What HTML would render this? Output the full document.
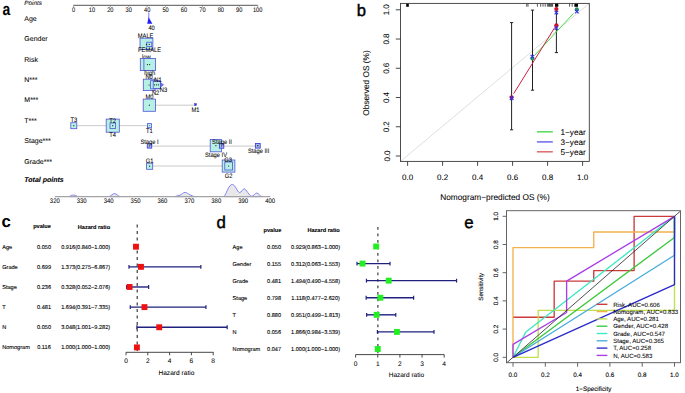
<!DOCTYPE html>
<html><head><meta charset="utf-8"><style>
html,body{margin:0;padding:0;background:#fff;}
body{width:685px;height:393px;overflow:hidden;}
svg{display:block;font-family:"Liberation Sans", sans-serif;text-rendering:geometricPrecision;}
text{stroke:#000;stroke-width:0.1px;}
text.big{stroke:none;}
text.bigr{stroke-width:0.45px;}
text.pb{stroke-width:0.06px;}
</style></head><body>
<svg width="685" height="393" viewBox="0 0 685 393">
<defs><clipPath id="eclip"><rect x="506.5" y="210.7" width="174" height="152"/></clipPath></defs>
<rect x="0" y="0" width="685" height="393" fill="#fff"/>
<text x="0" y="0" font-size="17" text-anchor="start" transform="translate(2.6 15.4) scale(0.82 1)" font-weight="bold" class="big">a</text>
<text x="356.7" y="16.4" font-size="16.6" text-anchor="start" class="bigr">b</text>
<text x="1.6" y="227.1" font-size="16.8" text-anchor="start" font-weight="bold" class="big">c</text>
<text x="216.4" y="228.1" font-size="16.8" text-anchor="start" class="bigr">d</text>
<text x="464.3" y="228.2" font-size="16.8" text-anchor="start" class="bigr">e</text>
<line x1="73.5" y1="5.4" x2="257.7" y2="5.4" stroke="#777" stroke-width="1.1"/>
<line x1="73.5" y1="5.5" x2="73.5" y2="6.8" stroke="#666" stroke-width="0.7"/>
<text x="0" y="0" font-size="6.6" text-anchor="middle" transform="translate(73.5 11.9) scale(0.86 1)" class="pb">0</text>
<line x1="91.92" y1="5.5" x2="91.92" y2="6.8" stroke="#666" stroke-width="0.7"/>
<text x="0" y="0" font-size="6.6" text-anchor="middle" transform="translate(91.92 11.9) scale(0.86 1)" class="pb">10</text>
<line x1="110.34" y1="5.5" x2="110.34" y2="6.8" stroke="#666" stroke-width="0.7"/>
<text x="0" y="0" font-size="6.6" text-anchor="middle" transform="translate(110.34 11.9) scale(0.86 1)" class="pb">20</text>
<line x1="128.76" y1="5.5" x2="128.76" y2="6.8" stroke="#666" stroke-width="0.7"/>
<text x="0" y="0" font-size="6.6" text-anchor="middle" transform="translate(128.76 11.9) scale(0.86 1)" class="pb">30</text>
<line x1="147.18" y1="5.5" x2="147.18" y2="6.8" stroke="#666" stroke-width="0.7"/>
<text x="0" y="0" font-size="6.6" text-anchor="middle" transform="translate(147.18 11.9) scale(0.86 1)" class="pb">40</text>
<line x1="165.6" y1="5.5" x2="165.6" y2="6.8" stroke="#666" stroke-width="0.7"/>
<text x="0" y="0" font-size="6.6" text-anchor="middle" transform="translate(165.6 11.9) scale(0.86 1)" class="pb">50</text>
<line x1="184.02" y1="5.5" x2="184.02" y2="6.8" stroke="#666" stroke-width="0.7"/>
<text x="0" y="0" font-size="6.6" text-anchor="middle" transform="translate(184.02 11.9) scale(0.86 1)" class="pb">60</text>
<line x1="202.44" y1="5.5" x2="202.44" y2="6.8" stroke="#666" stroke-width="0.7"/>
<text x="0" y="0" font-size="6.6" text-anchor="middle" transform="translate(202.44 11.9) scale(0.86 1)" class="pb">70</text>
<line x1="220.86" y1="5.5" x2="220.86" y2="6.8" stroke="#666" stroke-width="0.7"/>
<text x="0" y="0" font-size="6.6" text-anchor="middle" transform="translate(220.86 11.9) scale(0.86 1)" class="pb">80</text>
<line x1="239.28" y1="5.5" x2="239.28" y2="6.8" stroke="#666" stroke-width="0.7"/>
<text x="0" y="0" font-size="6.6" text-anchor="middle" transform="translate(239.28 11.9) scale(0.86 1)" class="pb">90</text>
<line x1="257.7" y1="5.5" x2="257.7" y2="6.8" stroke="#666" stroke-width="0.7"/>
<text x="0" y="0" font-size="6.6" text-anchor="middle" transform="translate(257.7 11.9) scale(0.86 1)" class="pb">100</text>
<text x="24.3" y="5" font-size="6.3" text-anchor="start" font-style="italic" class="pb">Points</text>
<text x="24.3" y="21.1" font-size="7" text-anchor="start" class="pb">Age</text>
<text x="24.3" y="41.3" font-size="7" text-anchor="start" class="pb">Gender</text>
<text x="24.3" y="61.5" font-size="7" text-anchor="start" class="pb">Risk</text>
<text x="24.3" y="81.9" font-size="7" text-anchor="start" class="pb">N***</text>
<text x="24.3" y="102.1" font-size="7" text-anchor="start" class="pb">M***</text>
<text x="24.3" y="122.5" font-size="7" text-anchor="start" class="pb">T***</text>
<text x="24.3" y="143.4" font-size="7" text-anchor="start" class="pb">Stage***</text>
<text x="24.3" y="163.5" font-size="7" text-anchor="start" class="pb">Grade***</text>
<text x="24.3" y="181.8" font-size="7" text-anchor="start" font-weight="bold" font-style="italic">Total points</text>
<line x1="148.8" y1="12.3" x2="148.8" y2="19" stroke="#2020ff" stroke-width="0.6"/>
<polygon points="148.6,17.2 147.2,23.8 152.4,23.8" fill="#1f1fff"/>
<text x="0" y="0" font-size="6.4" text-anchor="middle" transform="translate(151.6 29.9) scale(0.9 1)" class="pb">40</text>
<text x="0" y="0" font-size="6.4" text-anchor="middle" transform="translate(145.6 37.5) scale(0.9 1)" class="pb">MALE</text>
<rect x="140" y="38.2" width="12.9" height="11.2" fill="#b6efe4" stroke="#5252d6" stroke-width="0.8"/>
<rect x="146.8" y="42.2" width="5" height="4.4" fill="#b6efe4" stroke="#5252d6" stroke-width="0.8"/>
<circle cx="146.5" cy="44.4" r="0.6" fill="#0a2a1a" stroke="none" stroke-width="1"/>
<circle cx="149.3" cy="44.4" r="0.6" fill="#0a2a1a" stroke="none" stroke-width="1"/>
<text x="0" y="0" font-size="6.4" text-anchor="middle" transform="translate(149.6 52.3) scale(0.9 1)" class="pb">FEMALE</text>
<text x="0" y="0" font-size="6.4" text-anchor="middle" transform="translate(146.4 58.7) scale(0.9 1)" class="pb">low</text>
<rect x="140.3" y="58.4" width="12" height="12.2" fill="#b6efe4" stroke="#5252d6" stroke-width="0.8"/>
<rect x="143.9" y="58.4" width="11.7" height="12.2" fill="#b6efe4" stroke="#5252d6" stroke-width="0.8"/>
<circle cx="147.4" cy="64.6" r="0.6" fill="#0a2a1a" stroke="none" stroke-width="1"/>
<circle cx="149.6" cy="64.6" r="0.6" fill="#0a2a1a" stroke="none" stroke-width="1"/>
<text x="0" y="0" font-size="6.4" text-anchor="middle" transform="translate(149.7 75.4) scale(0.9 1)" class="pb">high</text>
<text x="0" y="0" font-size="6.4" text-anchor="middle" transform="translate(149.1 78.5) scale(0.9 1)" class="pb">N0</text>
<rect x="143.3" y="79.2" width="11.7" height="11.4" fill="#b6efe4" stroke="#5252d6" stroke-width="0.8"/>
<rect x="150.6" y="80.7" width="9.6" height="8.2" fill="#b6efe4" stroke="#5252d6" stroke-width="0.8"/>
<rect x="153.2" y="81.4" width="7.4" height="7" fill="#b6efe4" stroke="#5252d6" stroke-width="0.8"/>
<polygon points="160.4,82.4 163.6,84.8 160.4,87.2" fill="#6a6ae6" stroke="#5252d6" stroke-width="0.6"/>
<circle cx="149.1" cy="85" r="0.6" fill="#0a2a1a" stroke="none" stroke-width="1"/>
<circle cx="154.6" cy="84.8" r="0.6" fill="#0a2a1a" stroke="none" stroke-width="1"/>
<circle cx="156.6" cy="84.8" r="0.6" fill="#0a2a1a" stroke="none" stroke-width="1"/>
<circle cx="158.4" cy="84.8" r="0.6" fill="#0a2a1a" stroke="none" stroke-width="1"/>
<text x="0" y="0" font-size="6.4" text-anchor="middle" transform="translate(157.9 81.5) scale(0.9 1)" class="pb">N1</text>
<text x="0" y="0" font-size="6.4" text-anchor="middle" transform="translate(155.6 94.7) scale(0.9 1)" class="pb">N2</text>
<text x="0" y="0" font-size="6.4" text-anchor="middle" transform="translate(163.4 91.9) scale(0.9 1)" class="pb">N3</text>
<text x="0" y="0" font-size="6.4" text-anchor="middle" transform="translate(149.4 98.5) scale(0.9 1)" class="pb">M0</text>
<line x1="155.6" y1="105.2" x2="195.5" y2="105.2" stroke="#bdbdbd" stroke-width="0.8"/>
<rect x="143.2" y="99.1" width="12.4" height="12.2" fill="#b6efe4" stroke="#5252d6" stroke-width="0.8"/>
<circle cx="149.4" cy="105.2" r="0.6" fill="#0a2a1a" stroke="none" stroke-width="1"/>
<rect x="194.6" y="103.7" width="1.8" height="1.8" fill="#3333dd" stroke="#3333dd" stroke-width="0.5"/>
<text x="0" y="0" font-size="6.4" text-anchor="middle" transform="translate(195.4 111.7) scale(0.9 1)" class="pb">M1</text>
<line x1="73.8" y1="125.7" x2="149.4" y2="125.7" stroke="#bdbdbd" stroke-width="0.8"/>
<rect x="70.8" y="122.7" width="6" height="6" fill="#b6efe4" stroke="#5252d6" stroke-width="0.8"/>
<circle cx="73.8" cy="125.7" r="0.6" fill="#0a2a1a" stroke="none" stroke-width="1"/>
<text x="0" y="0" font-size="6.4" text-anchor="middle" transform="translate(73.8 122.3) scale(0.9 1)" class="pb">T3</text>
<rect x="106.2" y="119.1" width="13.1" height="13.1" fill="#b6efe4" stroke="#5252d6" stroke-width="0.8"/>
<rect x="110" y="123" width="5.6" height="5.5" fill="#b6efe4" stroke="#5252d6" stroke-width="0.8"/>
<circle cx="112.7" cy="125.7" r="0.6" fill="#0a2a1a" stroke="none" stroke-width="1"/>
<text x="0" y="0" font-size="6.4" text-anchor="middle" transform="translate(112.7 122.8) scale(0.9 1)" class="pb">T2</text>
<text x="0" y="0" font-size="6.4" text-anchor="middle" transform="translate(112.6 137.2) scale(0.9 1)" class="pb">T4</text>
<rect x="147.5" y="123.6" width="3.9" height="4.1" fill="#b6efe4" stroke="#5252d6" stroke-width="0.8"/>
<circle cx="149.4" cy="125.7" r="0.4" fill="#0a2a1a" stroke="none" stroke-width="1"/>
<text x="0" y="0" font-size="6.4" text-anchor="middle" transform="translate(149.4 133.1) scale(0.9 1)" class="pb">T1</text>
<line x1="149.5" y1="146.1" x2="258" y2="146.1" stroke="#bdbdbd" stroke-width="0.8"/>
<rect x="147.3" y="143.9" width="4.4" height="4.2" fill="#a8b8f0" stroke="#4040d8" stroke-width="0.9"/>
<circle cx="149.5" cy="146" r="0.6" fill="#0a2a1a" stroke="none" stroke-width="1"/>
<rect x="210.2" y="139.5" width="11.4" height="12.3" fill="#b6efe4" stroke="#5252d6" stroke-width="0.8"/>
<circle cx="215.9" cy="145.7" r="0.6" fill="#0a2a1a" stroke="none" stroke-width="1"/>
<rect x="219.4" y="143.8" width="4.4" height="4.4" fill="#a8b8f0" stroke="#4040d8" stroke-width="0.9"/>
<circle cx="221.6" cy="146" r="0.6" fill="#0a2a1a" stroke="none" stroke-width="1"/>
<rect x="255.4" y="143.5" width="4.8" height="4.6" fill="#a8b8f0" stroke="#4040d8" stroke-width="0.9"/>
<circle cx="257.8" cy="145.8" r="0.7" fill="#0a2a1a" stroke="none" stroke-width="1"/>
<text x="0" y="0" font-size="6.4" text-anchor="middle" transform="translate(149.5 143.7) scale(0.9 1)" class="pb">Stage I</text>
<text x="0" y="0" font-size="6.4" text-anchor="middle" transform="translate(222 143.7) scale(0.9 1)" class="pb">Stage II</text>
<text x="0" y="0" font-size="6.4" text-anchor="middle" transform="translate(216 157) scale(0.9 1)" class="pb">Stage IV</text>
<text x="0" y="0" font-size="6.4" text-anchor="middle" transform="translate(258.6 152.8) scale(0.9 1)" class="pb">Stage III</text>
<line x1="149.6" y1="166" x2="228.5" y2="166" stroke="#bdbdbd" stroke-width="0.8"/>
<rect x="146.6" y="163.2" width="6.1" height="6.1" fill="#b6efe4" stroke="#5252d6" stroke-width="0.8"/>
<circle cx="149.6" cy="166.2" r="0.6" fill="#0a2a1a" stroke="none" stroke-width="1"/>
<rect x="222.2" y="160" width="12.7" height="12.1" fill="#b6efe4" stroke="#5252d6" stroke-width="0.8"/>
<rect x="224.8" y="162" width="7.8" height="8" fill="#b6efe4" stroke="#5252d6" stroke-width="0.8"/>
<circle cx="228.6" cy="166" r="0.6" fill="#0a2a1a" stroke="none" stroke-width="1"/>
<text x="0" y="0" font-size="6.4" text-anchor="middle" transform="translate(149.5 162.7) scale(0.9 1)" class="pb">G1</text>
<text x="0" y="0" font-size="6.4" text-anchor="middle" transform="translate(228.2 161.7) scale(0.9 1)" class="pb">G3</text>
<text x="0" y="0" font-size="6.4" text-anchor="middle" transform="translate(228.5 177.8) scale(0.9 1)" class="pb">G2</text>
<path d="M69.3,196.6 C71.5,194.6 75.5,194.6 77.7,196.6 Z M109,196.6 C111.5,195.8 112.5,193.6 114.5,193.6 C116.5,193.6 117.5,195.8 120,196.6 Z M174.8,196.6 C177,195.8 178.5,195.6 180,195.2 C182,194.5 183,192.4 185,192.4 C187,192.4 189,195.0 194.5,196.6 Z M224.2,196.6 C227,192 229,184.5 232.3,184.5 C235.5,184.5 237.5,192.6 239.6,192.6 C241.5,192.6 242.5,188.8 244.2,188.8 C246,188.8 249.5,196.3 251.7,196.3 C253.5,196.3 255,193 256.7,193 C258.5,193 260,196 261.7,196.6 Z" fill="#e8e8e8" stroke="#6a6af0" stroke-width="0.8"/>
<line x1="54.8" y1="196.6" x2="270.3" y2="196.6" stroke="#a4a4a8" stroke-width="1.4"/>
<text x="0" y="0" font-size="6.6" text-anchor="middle" transform="translate(54.8 203) scale(0.9 1)" class="pb">320</text>
<text x="0" y="0" font-size="6.6" text-anchor="middle" transform="translate(81.71 203) scale(0.9 1)" class="pb">330</text>
<text x="0" y="0" font-size="6.6" text-anchor="middle" transform="translate(108.62 203) scale(0.9 1)" class="pb">340</text>
<text x="0" y="0" font-size="6.6" text-anchor="middle" transform="translate(135.53 203) scale(0.9 1)" class="pb">350</text>
<text x="0" y="0" font-size="6.6" text-anchor="middle" transform="translate(162.44 203) scale(0.9 1)" class="pb">360</text>
<text x="0" y="0" font-size="6.6" text-anchor="middle" transform="translate(189.35 203) scale(0.9 1)" class="pb">370</text>
<text x="0" y="0" font-size="6.6" text-anchor="middle" transform="translate(216.26 203) scale(0.9 1)" class="pb">380</text>
<text x="0" y="0" font-size="6.6" text-anchor="middle" transform="translate(243.17 203) scale(0.9 1)" class="pb">390</text>
<text x="0" y="0" font-size="6.6" text-anchor="middle" transform="translate(270.08 203) scale(0.9 1)" class="pb">400</text>
<line x1="400.5" y1="161.4" x2="589.3" y2="3.4" stroke="#d0d0d0" stroke-width="0.7"/>
<line x1="511.6" y1="22.6" x2="511.6" y2="129.8" stroke="#222" stroke-width="1"/>
<line x1="510" y1="22.6" x2="513.2" y2="22.6" stroke="#222" stroke-width="1"/>
<line x1="510" y1="129.8" x2="513.2" y2="129.8" stroke="#222" stroke-width="1"/>
<line x1="532.5" y1="10.1" x2="532.5" y2="90.2" stroke="#222" stroke-width="1"/>
<line x1="530.9" y1="10.1" x2="534.1" y2="10.1" stroke="#222" stroke-width="1"/>
<line x1="530.9" y1="90.2" x2="534.1" y2="90.2" stroke="#222" stroke-width="1"/>
<line x1="556.4" y1="9" x2="556.4" y2="52.6" stroke="#222" stroke-width="1"/>
<line x1="554.8" y1="9" x2="558" y2="9" stroke="#222" stroke-width="1"/>
<line x1="554.8" y1="52.6" x2="558" y2="52.6" stroke="#222" stroke-width="1"/>
<line x1="534.8" y1="55.2" x2="573.6" y2="13.3" stroke="#44dd44" stroke-width="1"/>
<line x1="513.7" y1="93.6" x2="554.8" y2="27.4" stroke="#cc2040" stroke-width="1"/>
<circle cx="511.6" cy="97.2" r="2" fill="#c81030" stroke="none" stroke-width="1"/>
<line x1="509.8" y1="96.4" x2="513.4" y2="100" stroke="#3030e8" stroke-width="1.1"/>
<line x1="509.8" y1="100" x2="513.4" y2="96.4" stroke="#3030e8" stroke-width="1.1"/>
<circle cx="532.4" cy="58.4" r="2" fill="#1f9a5a" stroke="none" stroke-width="1"/>
<line x1="530.6" y1="54.8" x2="534.2" y2="58.4" stroke="#3030e8" stroke-width="1.1"/>
<line x1="530.6" y1="58.4" x2="534.2" y2="54.8" stroke="#3030e8" stroke-width="1.1"/>
<circle cx="556.4" cy="9" r="2.1" fill="#d01028" stroke="none" stroke-width="1"/>
<line x1="554.6" y1="10.8" x2="558.2" y2="14.4" stroke="#3030e8" stroke-width="1.1"/>
<line x1="554.6" y1="14.4" x2="558.2" y2="10.8" stroke="#3030e8" stroke-width="1.1"/>
<circle cx="556.4" cy="25.3" r="2.1" fill="#d01028" stroke="none" stroke-width="1"/>
<line x1="554.6" y1="26.3" x2="558.2" y2="29.9" stroke="#3030e8" stroke-width="1.1"/>
<line x1="554.6" y1="29.9" x2="558.2" y2="26.3" stroke="#3030e8" stroke-width="1.1"/>
<circle cx="576.8" cy="9.2" r="2" fill="#1f8a5a" stroke="none" stroke-width="1"/>
<line x1="575" y1="9.8" x2="578.6" y2="13.4" stroke="#3030e8" stroke-width="1.1"/>
<line x1="575" y1="13.4" x2="578.6" y2="9.8" stroke="#3030e8" stroke-width="1.1"/>
<line x1="526.7" y1="3.4" x2="526.7" y2="6.7" stroke="#111" stroke-width="0.7"/>
<line x1="528" y1="3.4" x2="528" y2="6.7" stroke="#111" stroke-width="0.7"/>
<line x1="537.4" y1="3.4" x2="537.4" y2="6.7" stroke="#111" stroke-width="0.7"/>
<line x1="540.7" y1="3.4" x2="540.7" y2="6.7" stroke="#111" stroke-width="0.7"/>
<line x1="543" y1="3.4" x2="543" y2="6.7" stroke="#111" stroke-width="0.7"/>
<line x1="545.2" y1="3.4" x2="545.2" y2="6.7" stroke="#111" stroke-width="0.7"/>
<line x1="547.4" y1="3.4" x2="547.4" y2="6.7" stroke="#111" stroke-width="0.7"/>
<line x1="548.6" y1="3.4" x2="548.6" y2="6.7" stroke="#111" stroke-width="0.7"/>
<line x1="549.4" y1="3.4" x2="549.4" y2="6.7" stroke="#111" stroke-width="0.7"/>
<line x1="550.2" y1="3.4" x2="550.2" y2="6.7" stroke="#111" stroke-width="0.7"/>
<line x1="551" y1="3.4" x2="551" y2="6.7" stroke="#111" stroke-width="0.7"/>
<line x1="551.8" y1="3.4" x2="551.8" y2="6.7" stroke="#111" stroke-width="0.7"/>
<line x1="552.6" y1="3.4" x2="552.6" y2="6.7" stroke="#111" stroke-width="0.7"/>
<line x1="569.6" y1="3.4" x2="569.6" y2="6.7" stroke="#111" stroke-width="0.7"/>
<line x1="572.2" y1="3.4" x2="572.2" y2="6.7" stroke="#111" stroke-width="0.7"/>
<rect x="406.2" y="3.4" width="2.6" height="3.4" fill="#000" stroke="none" stroke-width="1"/>
<rect x="555" y="3.4" width="3.3" height="3.4" fill="#000" stroke="none" stroke-width="1"/>
<rect x="574.4" y="3.4" width="3.6" height="3.4" fill="#000" stroke="none" stroke-width="1"/>
<rect x="400.5" y="3.4" width="188.8" height="158" fill="none" stroke="#3a3a3a" stroke-width="0.9"/>
<line x1="395.8" y1="156" x2="400.5" y2="156" stroke="#333" stroke-width="0.9"/>
<text x="389.5" y="156" font-size="8" text-anchor="middle" transform="rotate(-90 389.5 156)" class="pb">0.0</text>
<line x1="407.6" y1="161.4" x2="407.6" y2="165.8" stroke="#333" stroke-width="0.9"/>
<text x="407.6" y="180.1" font-size="8" text-anchor="middle" class="pb">0.0</text>
<line x1="395.8" y1="126.76" x2="400.5" y2="126.76" stroke="#333" stroke-width="0.9"/>
<text x="389.5" y="126.76" font-size="8" text-anchor="middle" transform="rotate(-90 389.5 126.76)" class="pb">0.2</text>
<line x1="442.6" y1="161.4" x2="442.6" y2="165.8" stroke="#333" stroke-width="0.9"/>
<text x="442.6" y="180.1" font-size="8" text-anchor="middle" class="pb">0.2</text>
<line x1="395.8" y1="97.52" x2="400.5" y2="97.52" stroke="#333" stroke-width="0.9"/>
<text x="389.5" y="97.52" font-size="8" text-anchor="middle" transform="rotate(-90 389.5 97.52)" class="pb">0.4</text>
<line x1="477.6" y1="161.4" x2="477.6" y2="165.8" stroke="#333" stroke-width="0.9"/>
<text x="477.6" y="180.1" font-size="8" text-anchor="middle" class="pb">0.4</text>
<line x1="395.8" y1="68.28" x2="400.5" y2="68.28" stroke="#333" stroke-width="0.9"/>
<text x="389.5" y="68.28" font-size="8" text-anchor="middle" transform="rotate(-90 389.5 68.28)" class="pb">0.6</text>
<line x1="512.6" y1="161.4" x2="512.6" y2="165.8" stroke="#333" stroke-width="0.9"/>
<text x="512.6" y="180.1" font-size="8" text-anchor="middle" class="pb">0.6</text>
<line x1="395.8" y1="39.04" x2="400.5" y2="39.04" stroke="#333" stroke-width="0.9"/>
<text x="389.5" y="39.04" font-size="8" text-anchor="middle" transform="rotate(-90 389.5 39.04)" class="pb">0.8</text>
<line x1="547.6" y1="161.4" x2="547.6" y2="165.8" stroke="#333" stroke-width="0.9"/>
<text x="547.6" y="180.1" font-size="8" text-anchor="middle" class="pb">0.8</text>
<line x1="395.8" y1="9.8" x2="400.5" y2="9.8" stroke="#333" stroke-width="0.9"/>
<text x="389.5" y="9.8" font-size="8" text-anchor="middle" transform="rotate(-90 389.5 9.8)" class="pb">1.0</text>
<line x1="582.6" y1="161.4" x2="582.6" y2="165.8" stroke="#333" stroke-width="0.9"/>
<text x="582.6" y="180.1" font-size="8" text-anchor="middle" class="pb">1.0</text>
<text x="369" y="83" font-size="8.3" text-anchor="middle" transform="rotate(-90 369 83)" class="pb">Observed OS (%)</text>
<text x="494.9" y="199.5" font-size="8.3" text-anchor="middle" class="pb">Nomogram−predicted OS (%)</text>
<line x1="536.9" y1="131.8" x2="552.8" y2="131.8" stroke="#55dd55" stroke-width="1.5"/>
<text x="560.5" y="134.7" font-size="8.2" text-anchor="start" class="pb">1−year</text>
<line x1="536.9" y1="141.9" x2="552.8" y2="141.9" stroke="#6a6aee" stroke-width="1.5"/>
<text x="560.5" y="144.8" font-size="8.2" text-anchor="start" class="pb">3−year</text>
<line x1="536.9" y1="151.8" x2="552.8" y2="151.8" stroke="#dd6a6a" stroke-width="1.5"/>
<text x="560.5" y="154.7" font-size="8.2" text-anchor="start" class="pb">5−year</text>
<text x="42" y="228.32" font-size="5.6" text-anchor="middle" font-weight="bold">pvalue</text>
<text x="93.9" y="228.52" font-size="5.6" text-anchor="middle" font-weight="bold">Hazard ratio</text>
<line x1="137.2" y1="224.6" x2="137.2" y2="352.3" stroke="#2a2a2a" stroke-width="1.1" stroke-dasharray="3,3.5"/>
<text x="2.2" y="248.72" font-size="5.6" text-anchor="start">Age</text>
<text x="44" y="248.72" font-size="5.6" text-anchor="middle">0.050</text>
<text x="85.7" y="248.72" font-size="5.6" text-anchor="middle">0.916(0.840−1.000)</text>
<line x1="135.16" y1="246.7" x2="136.9" y2="246.7" stroke="#20207e" stroke-width="1.4"/>
<line x1="135.16" y1="244.8" x2="135.16" y2="248.6" stroke="#20207e" stroke-width="1.2"/>
<line x1="136.9" y1="244.8" x2="136.9" y2="248.6" stroke="#20207e" stroke-width="1.2"/>
<rect x="133.03" y="243.75" width="5.9" height="5.9" fill="#ee1111" stroke="none" stroke-width="1"/>
<text x="2.2" y="268.86" font-size="5.6" text-anchor="start">Grade</text>
<text x="44" y="268.86" font-size="5.6" text-anchor="middle">0.699</text>
<text x="85.7" y="268.86" font-size="5.6" text-anchor="middle">1.373(0.275−6.867)</text>
<line x1="129" y1="266.84" x2="200.85" y2="266.84" stroke="#20207e" stroke-width="1.4"/>
<line x1="129" y1="264.94" x2="129" y2="268.74" stroke="#20207e" stroke-width="1.2"/>
<line x1="200.85" y1="264.94" x2="200.85" y2="268.74" stroke="#20207e" stroke-width="1.2"/>
<rect x="138.02" y="263.89" width="5.9" height="5.9" fill="#ee1111" stroke="none" stroke-width="1"/>
<text x="2.2" y="289" font-size="5.6" text-anchor="start">Stage</text>
<text x="44" y="289" font-size="5.6" text-anchor="middle">0.236</text>
<text x="85.7" y="289" font-size="5.6" text-anchor="middle">0.328(0.052−2.076)</text>
<line x1="126.57" y1="286.98" x2="148.63" y2="286.98" stroke="#20207e" stroke-width="1.4"/>
<line x1="126.57" y1="285.08" x2="126.57" y2="288.88" stroke="#20207e" stroke-width="1.2"/>
<line x1="148.63" y1="285.08" x2="148.63" y2="288.88" stroke="#20207e" stroke-width="1.2"/>
<rect x="126.63" y="284.03" width="5.9" height="5.9" fill="#ee1111" stroke="none" stroke-width="1"/>
<text x="2.2" y="309.14" font-size="5.6" text-anchor="start">T</text>
<text x="44" y="309.14" font-size="5.6" text-anchor="middle">0.481</text>
<text x="85.7" y="309.14" font-size="5.6" text-anchor="middle">1.694(0.391−7.335)</text>
<line x1="130.26" y1="307.12" x2="205.95" y2="307.12" stroke="#20207e" stroke-width="1.4"/>
<line x1="130.26" y1="305.22" x2="130.26" y2="309.02" stroke="#20207e" stroke-width="1.2"/>
<line x1="205.95" y1="305.22" x2="205.95" y2="309.02" stroke="#20207e" stroke-width="1.2"/>
<rect x="141.51" y="304.17" width="5.9" height="5.9" fill="#ee1111" stroke="none" stroke-width="1"/>
<text x="2.2" y="329.28" font-size="5.6" text-anchor="start">N</text>
<text x="44" y="329.28" font-size="5.6" text-anchor="middle">0.050</text>
<text x="85.7" y="329.28" font-size="5.6" text-anchor="middle">3.048(1.001−9.282)</text>
<line x1="136.91" y1="327.26" x2="227.15" y2="327.26" stroke="#20207e" stroke-width="1.4"/>
<line x1="136.91" y1="325.36" x2="136.91" y2="329.16" stroke="#20207e" stroke-width="1.2"/>
<line x1="227.17" y1="325.36" x2="227.17" y2="329.16" stroke="#20207e" stroke-width="1.2"/>
<rect x="156.27" y="324.31" width="5.9" height="5.9" fill="#ee1111" stroke="none" stroke-width="1"/>
<text x="2.2" y="349.42" font-size="5.6" text-anchor="start">Nomogram</text>
<text x="44" y="349.42" font-size="5.6" text-anchor="middle">0.116</text>
<text x="85.7" y="349.42" font-size="5.6" text-anchor="middle">1.000(1.000−1.000)</text>
<rect x="133.95" y="344.45" width="5.9" height="5.9" fill="#ee1111" stroke="none" stroke-width="1"/>
<line x1="126" y1="352.3" x2="213.5" y2="352.3" stroke="#333" stroke-width="0.9"/>
<line x1="126" y1="352.3" x2="126" y2="355.3" stroke="#333" stroke-width="0.9"/>
<text x="126" y="362.58" font-size="6.6" text-anchor="middle" class="pb">0</text>
<line x1="147.8" y1="352.3" x2="147.8" y2="355.3" stroke="#333" stroke-width="0.9"/>
<text x="147.8" y="362.58" font-size="6.6" text-anchor="middle" class="pb">2</text>
<line x1="169.6" y1="352.3" x2="169.6" y2="355.3" stroke="#333" stroke-width="0.9"/>
<text x="169.6" y="362.58" font-size="6.6" text-anchor="middle" class="pb">4</text>
<line x1="191.4" y1="352.3" x2="191.4" y2="355.3" stroke="#333" stroke-width="0.9"/>
<text x="191.4" y="362.58" font-size="6.6" text-anchor="middle" class="pb">6</text>
<line x1="213.2" y1="352.3" x2="213.2" y2="355.3" stroke="#333" stroke-width="0.9"/>
<text x="213.2" y="362.58" font-size="6.6" text-anchor="middle" class="pb">8</text>
<text x="176.4" y="374.98" font-size="6.6" text-anchor="middle" class="pb">Hazard ratio</text>
<text x="272.4" y="231.52" font-size="5.6" text-anchor="middle" font-weight="bold">pvalue</text>
<text x="323.6" y="231.52" font-size="5.6" text-anchor="middle" font-weight="bold">Hazard ratio</text>
<line x1="377.9" y1="227.1" x2="377.9" y2="354.6" stroke="#2a2a2a" stroke-width="1.1" stroke-dasharray="2.7,3.8"/>
<text x="232.6" y="248.52" font-size="5.6" text-anchor="start">Age</text>
<text x="274.1" y="248.52" font-size="5.6" text-anchor="middle">0.050</text>
<text x="315.6" y="248.52" font-size="5.6" text-anchor="middle">0.929(0.863−1.000)</text>
<line x1="374.72" y1="246.5" x2="377.75" y2="246.5" stroke="#20207e" stroke-width="1.4"/>
<line x1="374.72" y1="244.6" x2="374.72" y2="248.4" stroke="#20207e" stroke-width="1.2"/>
<line x1="377.75" y1="244.6" x2="377.75" y2="248.4" stroke="#20207e" stroke-width="1.2"/>
<rect x="373.23" y="243.55" width="5.9" height="5.9" fill="#22ee22" stroke="none" stroke-width="1"/>
<text x="232.6" y="265.6" font-size="5.6" text-anchor="start">Gender</text>
<text x="274.1" y="265.6" font-size="5.6" text-anchor="middle">0.155</text>
<text x="315.6" y="265.6" font-size="5.6" text-anchor="middle">0.312(0.063−1.553)</text>
<line x1="357" y1="263.58" x2="390" y2="263.58" stroke="#20207e" stroke-width="1.4"/>
<line x1="357" y1="261.68" x2="357" y2="265.48" stroke="#20207e" stroke-width="1.2"/>
<line x1="390" y1="261.68" x2="390" y2="265.48" stroke="#20207e" stroke-width="1.2"/>
<rect x="359.56" y="260.63" width="5.9" height="5.9" fill="#22ee22" stroke="none" stroke-width="1"/>
<text x="232.6" y="282.68" font-size="5.6" text-anchor="start">Grade</text>
<text x="274.1" y="282.68" font-size="5.6" text-anchor="middle">0.481</text>
<text x="315.6" y="282.68" font-size="5.6" text-anchor="middle">1.494(0.490−4.558)</text>
<line x1="366.45" y1="280.66" x2="456.56" y2="280.66" stroke="#20207e" stroke-width="1.4"/>
<line x1="366.45" y1="278.76" x2="366.45" y2="282.56" stroke="#20207e" stroke-width="1.2"/>
<line x1="456.56" y1="278.76" x2="456.56" y2="282.56" stroke="#20207e" stroke-width="1.2"/>
<rect x="385.74" y="277.71" width="5.9" height="5.9" fill="#22ee22" stroke="none" stroke-width="1"/>
<text x="232.6" y="299.76" font-size="5.6" text-anchor="start">Stage</text>
<text x="274.1" y="299.76" font-size="5.6" text-anchor="middle">0.798</text>
<text x="315.6" y="299.76" font-size="5.6" text-anchor="middle">1.118(0.477−2.620)</text>
<line x1="366.17" y1="297.74" x2="413.63" y2="297.74" stroke="#20207e" stroke-width="1.4"/>
<line x1="366.17" y1="295.84" x2="366.17" y2="299.64" stroke="#20207e" stroke-width="1.2"/>
<line x1="413.63" y1="295.84" x2="413.63" y2="299.64" stroke="#20207e" stroke-width="1.2"/>
<rect x="377.41" y="294.79" width="5.9" height="5.9" fill="#22ee22" stroke="none" stroke-width="1"/>
<text x="232.6" y="316.84" font-size="5.6" text-anchor="start">T</text>
<text x="274.1" y="316.84" font-size="5.6" text-anchor="middle">0.880</text>
<text x="315.6" y="316.84" font-size="5.6" text-anchor="middle">0.951(0.499−1.813)</text>
<line x1="366.65" y1="314.82" x2="395.76" y2="314.82" stroke="#20207e" stroke-width="1.4"/>
<line x1="366.65" y1="312.92" x2="366.65" y2="316.72" stroke="#20207e" stroke-width="1.2"/>
<line x1="395.76" y1="312.92" x2="395.76" y2="316.72" stroke="#20207e" stroke-width="1.2"/>
<rect x="373.71" y="311.87" width="5.9" height="5.9" fill="#22ee22" stroke="none" stroke-width="1"/>
<text x="232.6" y="333.92" font-size="5.6" text-anchor="start">N</text>
<text x="274.1" y="333.92" font-size="5.6" text-anchor="middle">0.056</text>
<text x="315.6" y="333.92" font-size="5.6" text-anchor="middle">1.866(0.984−3.539)</text>
<line x1="377.4" y1="331.9" x2="433.99" y2="331.9" stroke="#20207e" stroke-width="1.4"/>
<line x1="377.4" y1="330" x2="377.4" y2="333.8" stroke="#20207e" stroke-width="1.2"/>
<line x1="433.99" y1="330" x2="433.99" y2="333.8" stroke="#20207e" stroke-width="1.2"/>
<rect x="393.98" y="328.95" width="5.9" height="5.9" fill="#22ee22" stroke="none" stroke-width="1"/>
<text x="232.6" y="351" font-size="5.6" text-anchor="start">Nomogram</text>
<text x="274.1" y="351" font-size="5.6" text-anchor="middle">0.047</text>
<text x="315.6" y="351" font-size="5.6" text-anchor="middle">1.000(1.000−1.000)</text>
<rect x="374.8" y="346.03" width="5.9" height="5.9" fill="#22ee22" stroke="none" stroke-width="1"/>
<line x1="355.6" y1="354.6" x2="444.2" y2="354.6" stroke="#333" stroke-width="0.9"/>
<line x1="355.6" y1="354.6" x2="355.6" y2="357.6" stroke="#333" stroke-width="0.9"/>
<text x="355.6" y="365.58" font-size="6.6" text-anchor="middle" class="pb">0</text>
<line x1="377.75" y1="354.6" x2="377.75" y2="357.6" stroke="#333" stroke-width="0.9"/>
<text x="377.75" y="365.58" font-size="6.6" text-anchor="middle" class="pb">1</text>
<line x1="399.9" y1="354.6" x2="399.9" y2="357.6" stroke="#333" stroke-width="0.9"/>
<text x="399.9" y="365.58" font-size="6.6" text-anchor="middle" class="pb">2</text>
<line x1="422.05" y1="354.6" x2="422.05" y2="357.6" stroke="#333" stroke-width="0.9"/>
<text x="422.05" y="365.58" font-size="6.6" text-anchor="middle" class="pb">3</text>
<line x1="444.2" y1="354.6" x2="444.2" y2="357.6" stroke="#333" stroke-width="0.9"/>
<text x="444.2" y="365.58" font-size="6.6" text-anchor="middle" class="pb">4</text>
<text x="406.4" y="377.14" font-size="6.5" text-anchor="middle" class="pb">Hazard ratio</text>
<polyline points="513,317.26 554.18,317.26 554.18,281.16 593.75,281.16 593.75,270.59 634.12,270.59 634.12,216.3 674.5,216.3" stroke="#cc3a3a" stroke-width="1.35" fill="none" stroke-linejoin="round"/>
<polyline points="513,357.3 513,247.6 593.75,247.6 593.75,231.95 674.5,231.95 674.5,216.3" stroke="#f0b24e" stroke-width="1.35" fill="none" stroke-linejoin="round"/>
<polyline points="513,357.3 538.19,357.3 538.19,310.35 674.5,310.35 674.5,216.3" stroke="#bfe04a" stroke-width="1.35" fill="none" stroke-linejoin="round"/>
<polyline points="513,357.3 674.5,237.45 674.5,216.3" stroke="#3cc83c" stroke-width="1.35" fill="none" stroke-linejoin="round"/>
<polyline points="513,357.3 525.6,332.34 674.5,216.3" stroke="#3ee8c4" stroke-width="1.35" fill="none" stroke-linejoin="round"/>
<polyline points="513,357.3 674.5,255.22 674.5,216.3" stroke="#48acdc" stroke-width="1.35" fill="none" stroke-linejoin="round"/>
<polyline points="513,357.3 674.5,284.69 674.5,216.3" stroke="#2a2acc" stroke-width="1.35" fill="none" stroke-linejoin="round"/>
<polyline points="513,357.3 513,344.33 566.62,312.46 566.62,281.16 674.5,216.3" stroke="#a93ee8" stroke-width="1.35" fill="none" stroke-linejoin="round"/>
<line x1="506.54" y1="362.94" x2="680.96" y2="210.66" stroke="#222" stroke-width="0.8" clip-path="url(#eclip)"/>
<rect x="506.5" y="210.7" width="174" height="152" fill="none" stroke="#555" stroke-width="0.9"/>
<line x1="502.6" y1="357.3" x2="506.5" y2="357.3" stroke="#555" stroke-width="0.9"/>
<text x="497.8" y="357.3" font-size="6.4" text-anchor="middle" transform="rotate(-90 497.8 357.3)">0.0</text>
<line x1="513" y1="362.7" x2="513" y2="366.7" stroke="#555" stroke-width="0.9"/>
<text x="513" y="376.5" font-size="6.3" text-anchor="middle">0.0</text>
<line x1="502.6" y1="329.1" x2="506.5" y2="329.1" stroke="#555" stroke-width="0.9"/>
<text x="497.8" y="329.1" font-size="6.4" text-anchor="middle" transform="rotate(-90 497.8 329.1)">0.2</text>
<line x1="545.3" y1="362.7" x2="545.3" y2="366.7" stroke="#555" stroke-width="0.9"/>
<text x="545.3" y="376.5" font-size="6.3" text-anchor="middle">0.2</text>
<line x1="502.6" y1="300.9" x2="506.5" y2="300.9" stroke="#555" stroke-width="0.9"/>
<text x="497.8" y="300.9" font-size="6.4" text-anchor="middle" transform="rotate(-90 497.8 300.9)">0.4</text>
<line x1="577.6" y1="362.7" x2="577.6" y2="366.7" stroke="#555" stroke-width="0.9"/>
<text x="577.6" y="376.5" font-size="6.3" text-anchor="middle">0.4</text>
<line x1="502.6" y1="272.7" x2="506.5" y2="272.7" stroke="#555" stroke-width="0.9"/>
<text x="497.8" y="272.7" font-size="6.4" text-anchor="middle" transform="rotate(-90 497.8 272.7)">0.6</text>
<line x1="609.9" y1="362.7" x2="609.9" y2="366.7" stroke="#555" stroke-width="0.9"/>
<text x="609.9" y="376.5" font-size="6.3" text-anchor="middle">0.6</text>
<line x1="502.6" y1="244.5" x2="506.5" y2="244.5" stroke="#555" stroke-width="0.9"/>
<text x="497.8" y="244.5" font-size="6.4" text-anchor="middle" transform="rotate(-90 497.8 244.5)">0.8</text>
<line x1="642.2" y1="362.7" x2="642.2" y2="366.7" stroke="#555" stroke-width="0.9"/>
<text x="642.2" y="376.5" font-size="6.3" text-anchor="middle">0.8</text>
<line x1="502.6" y1="216.3" x2="506.5" y2="216.3" stroke="#555" stroke-width="0.9"/>
<text x="497.8" y="216.3" font-size="6.4" text-anchor="middle" transform="rotate(-90 497.8 216.3)">1.0</text>
<line x1="674.5" y1="362.7" x2="674.5" y2="366.7" stroke="#555" stroke-width="0.9"/>
<text x="674.5" y="376.5" font-size="6.3" text-anchor="middle">1.0</text>
<text x="482.8" y="286.7" font-size="6.2" text-anchor="middle" transform="rotate(-90 482.8 286.7)">Sensitivity</text>
<text x="593.6" y="390.9" font-size="6.3" text-anchor="middle">1−Specificity</text>
<line x1="596.6" y1="304.3" x2="607.4" y2="304.3" stroke="#cc3a3a" stroke-width="1.35"/>
<text x="613.2" y="306.5" font-size="6.12" text-anchor="start" class="pb">Risk, AUC=0.606</text>
<line x1="596.6" y1="311.6" x2="607.4" y2="311.6" stroke="#f0b24e" stroke-width="1.35"/>
<text x="613.2" y="313.8" font-size="6.12" text-anchor="start" class="pb">Nomogram, AUC=0.833</text>
<line x1="596.6" y1="318.9" x2="607.4" y2="318.9" stroke="#bfe04a" stroke-width="1.35"/>
<text x="613.2" y="321.1" font-size="6.12" text-anchor="start" class="pb">Age, AUC=0.281</text>
<line x1="596.6" y1="326.2" x2="607.4" y2="326.2" stroke="#3cc83c" stroke-width="1.35"/>
<text x="613.2" y="328.4" font-size="6.12" text-anchor="start" class="pb">Gender, AUC=0.428</text>
<line x1="596.6" y1="333.5" x2="607.4" y2="333.5" stroke="#3ee8c4" stroke-width="1.35"/>
<text x="613.2" y="335.7" font-size="6.12" text-anchor="start" class="pb">Grade, AUC=0.547</text>
<line x1="596.6" y1="340.8" x2="607.4" y2="340.8" stroke="#48acdc" stroke-width="1.35"/>
<text x="613.2" y="343" font-size="6.12" text-anchor="start" class="pb">Stage, AUC=0.365</text>
<line x1="596.6" y1="348.1" x2="607.4" y2="348.1" stroke="#2a2acc" stroke-width="1.35"/>
<text x="613.2" y="350.3" font-size="6.12" text-anchor="start" class="pb">T, AUC=0.258</text>
<line x1="596.6" y1="355.4" x2="607.4" y2="355.4" stroke="#a93ee8" stroke-width="1.35"/>
<text x="613.2" y="357.6" font-size="6.12" text-anchor="start" class="pb">N, AUC=0.583</text>
</svg>
</body></html>
